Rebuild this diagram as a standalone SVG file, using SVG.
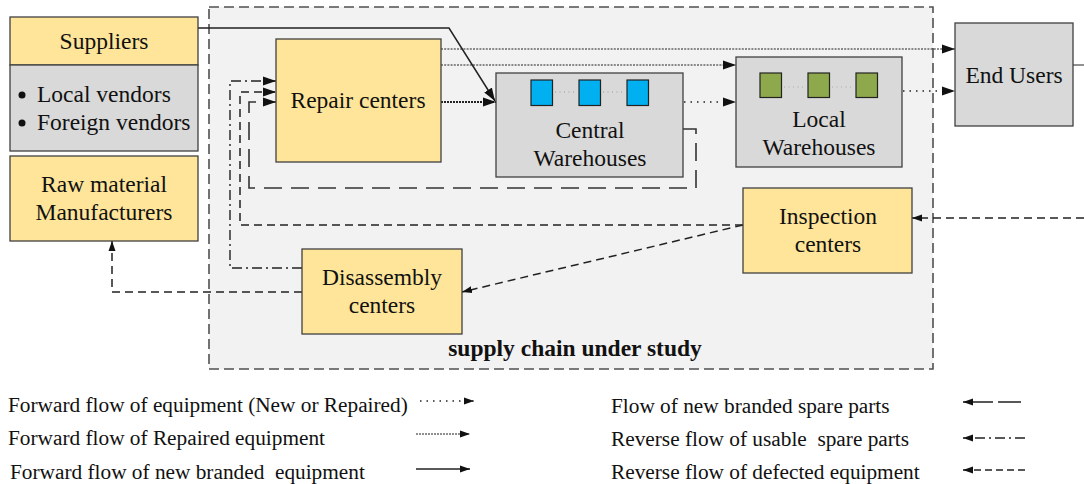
<svg xmlns="http://www.w3.org/2000/svg" width="1084" height="484" viewBox="0 0 1084 484">
<style>
text{font-family:"Liberation Serif","Times New Roman",serif;fill:#111}
.t{font-size:23.5px;text-anchor:middle}
.lg{font-size:21.3px}
.y{fill:#FFE599;stroke:#404040;stroke-width:1.3}
.g{fill:#D9D9D9;stroke:#404040;stroke-width:1.3}
.c{fill:none;stroke:#222}
.solid{stroke-width:1.5}
.rep{stroke-width:1.2;stroke-dasharray:2 1.2}
.rep2{stroke-width:1.8;stroke-dasharray:2 1}
.nr{stroke-width:1.6;stroke-dasharray:1.5 5}
.sp{stroke:#333;stroke-width:1.6;stroke-dasharray:18 9}
.def{stroke-width:1.5;stroke-dasharray:8 5}
.use{stroke-width:1.4;stroke-dasharray:10 4 2 4}
</style>
<defs>
<marker id="ah" markerUnits="userSpaceOnUse" markerWidth="14" markerHeight="10" refX="13" refY="5" orient="auto"><path d="M0,0.5 L13,5 L0,9.5 Z" fill="#111"/></marker>
<marker id="as" markerUnits="userSpaceOnUse" markerWidth="11" markerHeight="8" refX="10" refY="4" orient="auto"><path d="M0,0.5 L10,4 L0,7.5 Z" fill="#111"/></marker>
</defs>
<rect width="1084" height="484" fill="#fff"/>
<g id="study">
<rect x="209" y="7" width="724" height="362" fill="#F2F2F2" stroke="#505050" stroke-width="1.6" stroke-dasharray="10 5"/>
<text x="575" y="356" style="font-size:23.5px;font-weight:bold;text-anchor:middle">supply chain under study</text>
</g>
<g id="connectors">
<path class="c solid" d="M198,28 H449 L495,101" marker-end="url(#ah)"/>
<path class="c rep" d="M441,49 H955" marker-end="url(#ah)"/>
<path class="c rep" d="M441,65 H736" marker-end="url(#ah)"/>
<path class="c rep2" d="M441,102 H496" marker-end="url(#ah)"/>
<path class="c nr" d="M684,102 H736" marker-end="url(#ah)"/>
<path class="c nr" d="M903,91 H955" marker-end="url(#ah)"/>
<path class="c solid" d="M1073,65 H1084" style="stroke-width:1"/>
<path class="c sp" d="M683,129 H696 V188 H249 V102 H276" marker-end="url(#ah)"/>
<path class="c def" d="M743,225 H240 V92 H276" marker-end="url(#ah)"/>
<path class="c use" d="M302,268 H230 V81 H276" marker-end="url(#ah)"/>
<path class="c def" d="M743,225 L462,292" marker-end="url(#as)"/>
<path class="c def" d="M1084,218 H912" marker-end="url(#as)"/>
<path class="c def" d="M302,292 H112 V241" marker-end="url(#as)"/>
</g>
<g id="suppliers">
<rect class="y" x="10" y="17" width="188" height="48"/>
<text class="t" x="104" y="49">Suppliers</text>
</g>
<g id="vendors">
<rect class="g" x="10" y="65" width="188" height="86"/>
<circle cx="22" cy="95" r="3.5" fill="#111"/>
<circle cx="22" cy="123" r="3.5" fill="#111"/>
<text x="37" y="102" style="font-size:23.5px">Local vendors</text>
<text x="37" y="130" style="font-size:23.5px">Foreign vendors</text>
</g>
<g id="rawmaterial">
<rect class="y" x="10" y="156" width="188" height="85"/>
<text class="t" x="104" y="192">Raw material</text>
<text class="t" x="104" y="220">Manufacturers</text>
</g>
<g id="repair">
<rect class="y" x="276" y="39" width="165" height="123"/>
<text class="t" x="358" y="108">Repair centers</text>
</g>
<g id="central">
<rect class="g" x="496" y="73" width="187" height="104"/>
<rect x="531" y="80" width="21.5" height="25.5" fill="#00B0F0" stroke="#222" stroke-width="1.2"/>
<rect x="579" y="80" width="21.5" height="25.5" fill="#00B0F0" stroke="#222" stroke-width="1.2"/>
<rect x="627" y="80" width="21.5" height="25.5" fill="#00B0F0" stroke="#222" stroke-width="1.2"/>
<path d="M555,92 H577 M603,92 H625" stroke="#999" stroke-width="1" stroke-dasharray="1 3.5"/>
<text class="t" x="590" y="138">Central</text>
<text class="t" x="590" y="166">Warehouses</text>
</g>
<g id="local">
<rect class="g" x="736" y="57" width="166" height="110"/>
<rect x="760" y="73" width="21.5" height="24.5" fill="#8EA94B" stroke="#222" stroke-width="1.2"/>
<rect x="808" y="73" width="21.5" height="24.5" fill="#8EA94B" stroke="#222" stroke-width="1.2"/>
<rect x="856" y="73" width="21.5" height="24.5" fill="#8EA94B" stroke="#222" stroke-width="1.2"/>
<path d="M784,87 H806 M832,87 H854" stroke="#aaa" stroke-width="1" stroke-dasharray="1 3.5"/>
<text class="t" x="819" y="127">Local</text>
<text class="t" x="819" y="155">Warehouses</text>
</g>
<g id="endusers">
<rect class="g" x="955" y="23" width="118" height="103"/>
<text class="t" x="1014" y="83">End Users</text>
</g>
<g id="inspection">
<rect class="y" x="743" y="188" width="169" height="85"/>
<text class="t" x="828" y="224">Inspection</text>
<text class="t" x="828" y="252">centers</text>
</g>
<g id="disassembly">
<rect class="y" x="302" y="249" width="160" height="85"/>
<text class="t" x="382" y="285">Disassembly</text>
<text class="t" x="382" y="313">centers</text>
</g>
<g id="legend">
<text class="lg" x="8" y="412">Forward flow of equipment (New or Repaired)</text>
<text class="lg" x="8" y="445">Forward flow of Repaired equipment</text>
<text class="lg" x="10" y="479" xml:space="preserve">Forward flow of new branded  equipment</text>
<text class="lg" x="611" y="413">Flow of new branded spare parts</text>
<text class="lg" x="611" y="446" xml:space="preserve">Reverse flow of usable  spare parts</text>
<text class="lg" x="611" y="479">Reverse flow of defected equipment</text>
<path class="c nr" d="M420,401 H474" marker-end="url(#as)"/>
<path class="c rep2" d="M416,434 H470" style="stroke-width:1.2" marker-end="url(#as)"/>
<path class="c solid" d="M416,469 H470" marker-end="url(#as)"/>
<path class="c" d="M1021,402 H998 M993,402 H963" style="stroke-width:1.5" marker-end="url(#as)"/>
<path class="c use" d="M1025,438 H963" marker-end="url(#as)"/>
<path class="c def" d="M1025,470 H963" style="stroke-dasharray:7 4" marker-end="url(#as)"/>
</g>
</svg>
